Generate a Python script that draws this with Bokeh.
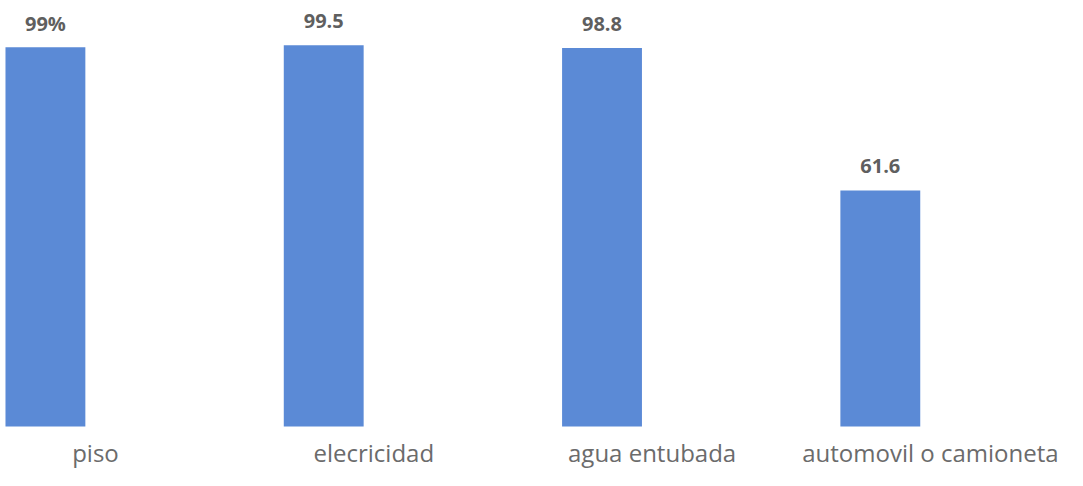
from bokeh.plotting import figure
from bokeh.models import ColumnDataSource, Range1d, LabelSet
from bokeh.transform import dodge
from bokeh.core.properties import value
from bokeh.embed import file_html
from bokeh.resources import INLINE

categories = ["piso", "elecricidad", "agua entubada", "automovil o camioneta"]
values = [99, 99.5, 98.8, 61.6]
value_labels = ["99%", "99.5", "98.8", "61.6"]

idx = list(range(len(categories)))
src = ColumnDataSource(dict(x=idx, top=values, lab=value_labels,
                            cat=categories, base=[0] * len(idx)))

p = figure(width=1067, height=470, output_backend="svg", toolbar_location=None,
           x_range=Range1d(-0.3414, 3.4926), y_range=Range1d(-11.5, 111.2),
           min_border=0)
p.outline_line_color = None
p.xgrid.visible = False
p.ygrid.visible = False
p.xaxis.visible = False
p.yaxis.visible = False

p.vbar(x=dodge("x", -0.18, range=p.x_range), top="top", bottom=0, width=0.287,
       source=src, fill_color="#5b8ad6", line_color=None)

vlabels = LabelSet(x=dodge("x", -0.18, range=p.x_range), y="top", text="lab", source=src,
                   y_offset=24, text_align="center", text_baseline="middle",
                   text_font=value("Open Sans"), text_font_size="20px",
                   text_font_style="bold", text_color="#5f5f5f")
p.add_layout(vlabels)

clabels = LabelSet(x="x", y="base", text="cat", source=src,
                   y_offset=-26, text_align="center", text_baseline="middle",
                   text_font=value("Open Sans"), text_font_size="24px",
                   text_color="#6b6b6b")
p.add_layout(clabels)

open("out.html", "w").write(file_html(p, INLINE))
